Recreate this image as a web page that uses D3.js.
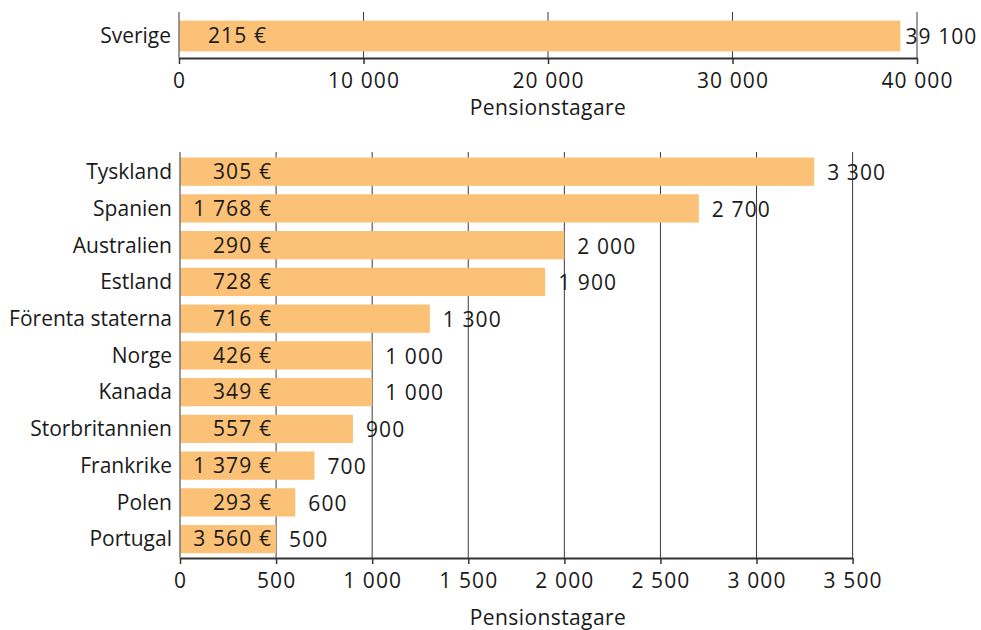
<!DOCTYPE html>
<html>
<head>
<meta charset="utf-8">
<script src="https://cdn.jsdelivr.net/npm/d3@7"></script>
<style>
  html, body { margin: 0; padding: 0; background: #fff; }
  svg text { font-family: "Open Sans", "DejaVu Sans", sans-serif; fill: #1a1a1a; }
</style>
</head>
<body>
<svg id="chart" width="981" height="630"></svg>
<script>
// ---- Data ----
const topCategories = ["Sverige"];
const topPensioners = [39100];
const topPensionEUR = [215];
const topTicks = [0, 10000, 20000, 30000, 40000];

const categories = ["Tyskland", "Spanien", "Australien", "Estland", "Förenta staterna",
  "Norge", "Kanada", "Storbritannien", "Frankrike", "Polen", "Portugal"];
const pensioners = [3300, 2700, 2000, 1900, 1300, 1000, 1000, 900, 700, 600, 500];
const pensionEUR = [305, 1768, 290, 728, 716, 426, 349, 557, 1379, 293, 3560];
const bottomTicks = [0, 500, 1000, 1500, 2000, 2500, 3000, 3500];

const axisTitle = "Pensionstagare";

// ---- Setup ----
const locale = d3.formatLocale({ decimal: ",", thousands: "\u00a0", grouping: [3], currency: ["", "\u00a0€"] });
const fmt = locale.format(",d");
const fmtEur = v => fmt(v) + "\u00a0€";

const svg = d3.select("#chart");
const barColor = "#fbc177";
const gridColor = "#3a3a3a";
const fontSize = 21;
const numSpacing = "1.1px";

function panel(opts) {
  const { cats, vals, eur, ticks, xRange, domainMax, gridTop, bandRange, pi, po, axisY, eurX, titleY, labelGap } = opts;
  const x = d3.scaleLinear().domain([0, domainMax]).range(xRange);
  const y = d3.scaleBand().domain(cats).range(bandRange).paddingInner(pi).paddingOuter(po);
  const g = svg.append("g");

  // grid lines
  g.selectAll("line.grid").data(ticks.slice(1)).join("line")
    .attr("class", "grid")
    .attr("x1", d => x(d)).attr("x2", d => x(d))
    .attr("y1", gridTop).attr("y2", axisY)
    .attr("stroke", gridColor).attr("stroke-width", 1);

  // bars
  g.selectAll("rect.bar").data(cats).join("rect")
    .attr("class", "bar")
    .attr("x", x(0))
    .attr("y", d => y(d))
    .attr("width", (d, i) => x(vals[i]) - x(0))
    .attr("height", y.bandwidth())
    .attr("fill", barColor);

  // left axis line
  g.append("line")
    .attr("x1", x(0)).attr("x2", x(0))
    .attr("y1", gridTop).attr("y2", axisY)
    .attr("stroke", "#777").attr("stroke-width", 1.5);

  // bottom axis
  const axis = d3.axisBottom(x).tickValues(ticks).tickFormat(fmt).tickSizeInner(6).tickSizeOuter(0).tickPadding(9);
  const ag = g.append("g").attr("transform", `translate(0,${axisY})`).call(axis);
  ag.select(".domain").attr("stroke", "#333").attr("stroke-width", 2);
  ag.selectAll(".tick line").attr("stroke", "#333").attr("stroke-width", 1.5);
  ag.selectAll(".tick text").attr("font-size", fontSize).attr("fill", "#1a1a1a")
    .attr("font-family", "'Open Sans', sans-serif")
    .attr("letter-spacing", numSpacing);

  // category labels
  g.selectAll("text.cat").data(cats).join("text")
    .attr("class", "cat")
    .attr("x", x(0) - 8)
    .attr("y", d => y(d) + y.bandwidth() / 2)
    .attr("dy", "0.35em")
    .attr("text-anchor", "end")
    .attr("font-size", fontSize)
    .text(d => d);

  // euro labels inside bars
  g.selectAll("text.eur").data(cats).join("text")
    .attr("class", "eur")
    .attr("x", eurX)
    .attr("y", d => y(d) + y.bandwidth() / 2)
    .attr("dy", "0.35em")
    .attr("text-anchor", "end")
    .attr("font-size", fontSize)
    .attr("letter-spacing", numSpacing)
    .text((d, i) => fmtEur(eur[i]));

  // value labels
  g.selectAll("text.val").data(cats).join("text")
    .attr("class", "val")
    .attr("x", (d, i) => x(vals[i]) + labelGap)
    .attr("y", d => y(d) + y.bandwidth() / 2 + 1)
    .attr("dy", "0.35em")
    .attr("font-size", fontSize)
    .attr("letter-spacing", numSpacing)
    .text((d, i) => fmt(vals[i]));

  // axis title
  g.append("text")
    .attr("x", 548).attr("y", titleY)
    .attr("text-anchor", "middle")
    .attr("font-size", fontSize)
    .attr("letter-spacing", "0.4px")
    .text(axisTitle);
}

panel({
  cats: topCategories, vals: topPensioners, eur: topPensionEUR, ticks: topTicks,
  xRange: [179, 917], domainMax: 40000, gridTop: 12,
  bandRange: [14, 58], pi: 0.3, po: 0.15, axisY: 58, eurX: 267, titleY: 115, labelGap: 5
});

panel({
  cats: categories, vals: pensioners, eur: pensionEUR, ticks: bottomTicks,
  xRange: [180, 852.6], domainMax: 3500, gridTop: 152,
  bandRange: [153.3, 557.5], pi: 0.23, po: 0.115, axisY: 558, eurX: 272, titleY: 625, labelGap: 13
});
</script>
</body>
</html>
